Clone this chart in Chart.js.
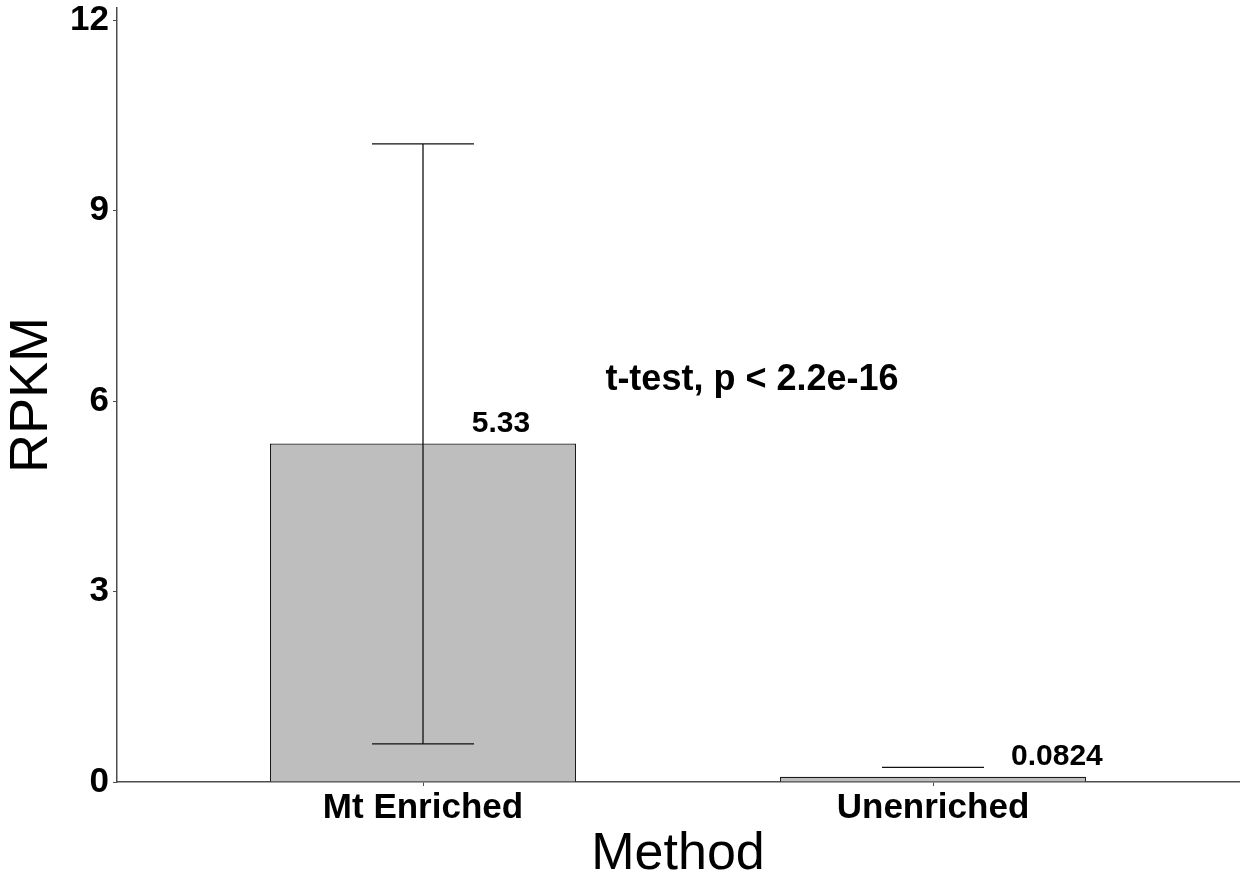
<!DOCTYPE html>
<html>
<head>
<meta charset="utf-8">
<script src="https://cdn.jsdelivr.net/npm/chart.js@4/dist/chart.umd.min.js"></script>
<style>
  html, body { margin: 0; padding: 0; background: #fff; }
  #wrap { width: 1241px; height: 878px; }
</style>
</head>
<body>
<div id="wrap"><canvas id="barChart"></canvas></div>
<script>
// data
const categories = ['Mt Enriched', 'Unenriched'];
const means = [5.33, 0.0824];
const errUpper = [10.05, 0.23];
const errLower = [0.6, null];   // lower whisker of Unenriched falls below 0, not drawn
const valueLabels = ['5.33', '0.0824'];
const yTicks = [0, 3, 6, 9, 12];
const testText = 't-test, p < 2.2e-16';

const FONT = '"Liberation Sans", Arial, sans-serif';
const AXIS = '#4d4d4d';

// error bars, value labels and the test annotation
const extras = {
    id: 'extras',
    afterDatasetsDraw(chart) {
        const c = chart.ctx;
        const x = chart.scales.x;
        const y = chart.scales.y;
        const capHalf = 0.1; // in category units
        c.save();
        c.strokeStyle = '#111';
        c.lineWidth = 1.3;
        for (let i = 0; i < categories.length; i++) {
            const cx = i + 1;
            const top = y.getPixelForValue(errUpper[i]);
            c.beginPath();
            c.moveTo(x.getPixelForValue(cx - capHalf), top);
            c.lineTo(x.getPixelForValue(cx + capHalf), top);
            if (errLower[i] !== null) {
                const bot = y.getPixelForValue(errLower[i]);
                c.moveTo(x.getPixelForValue(cx), top);
                c.lineTo(x.getPixelForValue(cx), bot);
                c.moveTo(x.getPixelForValue(cx - capHalf), bot);
                c.lineTo(x.getPixelForValue(cx + capHalf), bot);
            }
            c.stroke();
        }
        // value labels, nudged right of the bar centre
        const nudge = [0.153, 0.243];
        c.fillStyle = '#000';
        c.font = 'bold 30px ' + FONT;
        c.textAlign = 'center';
        c.textBaseline = 'alphabetic';
        for (let i = 0; i < categories.length; i++) {
            c.fillText(valueLabels[i], x.getPixelForValue(i + 1 + nudge[i]), y.getPixelForValue(means[i]) - 12);
        }
        c.font = 'bold 36px ' + FONT;
        c.fillText(testText, x.getPixelForValue(1.645), y.getPixelForValue(6.17));
        c.restore();
    }
};

const ctx = document.getElementById('barChart').getContext('2d');
const myChart = new Chart(ctx, {
    type: 'bar',
    data: {
        datasets: [{
            data: means.map((v, i) => ({ x: i + 1, y: v })),
            backgroundColor: '#bebebe',
            borderColor: '#1a1a1a',
            borderWidth: 1.3,
            categoryPercentage: 1,
            barPercentage: 0.6
        }]
    },
    plugins: [extras],
    options: {
        responsive: true,
        maintainAspectRatio: false,
        animation: false,
        layout: { padding: { top: 8, right: 2, left: 0, bottom: 0 } },
        plugins: { legend: { display: false }, tooltip: { enabled: false } },
        scales: {
            x: {
                type: 'linear',
                offset: false,
                min: 0.4,
                max: 2.6,
                afterBuildTicks: s => { s.ticks = [{ value: 1 }, { value: 2 }]; },
                afterFit: s => { s.height = 96; s.paddingLeft = 0; s.paddingRight = 0; },
                ticks: {
                    color: '#000',
                    font: { family: FONT, size: 35, weight: 'bold' },
                    padding: 1,
                    callback: v => categories[v - 1]
                },
                grid: { offset: false, drawOnChartArea: false, drawTicks: true, tickLength: 4, color: AXIS },
                border: { display: true, color: AXIS, width: 1.5 },
                title: {
                    display: true,
                    text: 'Method',
                    color: '#000',
                    font: { family: FONT, size: 52 },
                    padding: { top: 0, bottom: -8 }
                }
            },
            y: {
                min: 0,
                max: 12.19,
                afterBuildTicks: s => { s.ticks = yTicks.map(v => ({ value: v })); },
                afterFit: s => { s.width = 117; s.paddingTop = 0; s.paddingBottom = 0; },
                ticks: {
                    color: '#000',
                    font: { family: FONT, size: 35, weight: 'bold' },
                    padding: 4
                },
                grid: { drawOnChartArea: false, drawTicks: true, tickLength: 4, color: AXIS },
                border: { display: true, color: AXIS, width: 1.5 },
                title: {
                    display: true,
                    text: 'RPKM',
                    color: '#000',
                    font: { family: FONT, size: 54 },
                    padding: { top: 0, bottom: 0 }
                }
            }
        }
    }
});
</script>
</body>
</html>
